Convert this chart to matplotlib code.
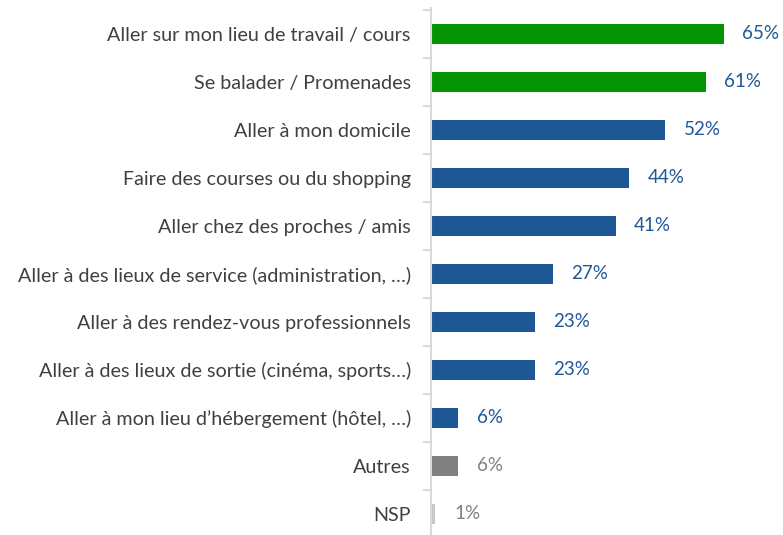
import matplotlib
matplotlib.use("Agg")
import matplotlib.pyplot as plt

# data
categories = [
    "Aller sur mon lieu de travail / cours",
    "Se balader / Promenades",
    "Aller à mon domicile",
    "Faire des courses ou du shopping",
    "Aller chez des proches / amis",
    "Aller à des lieux de service (administration, …)",
    "Aller à des rendez-vous professionnels",
    "Aller à des lieux de sortie (cinéma, sports…)",
    "Aller à mon lieu d’hébergement (hôtel, …)",
    "Autres",
    "NSP",
]
values = [65, 61, 52, 44, 41, 27, 23, 23, 6, 6, 1]

green = "#039303"
blue = "#1E5796"
gray = "#808080"
light = "#C8C8C8"
bar_colors = [green, green] + [blue] * 7 + [gray, light]
label_colors = [blue] * 9 + [gray, gray]

plt.rcParams['font.family'] = ['Lato', 'DejaVu Sans']

fig = plt.figure(figsize=(7.83, 5.35), dpi=100)
ax = fig.add_axes([431 / 783, 0, 352 / 783, 527 / 535])

y = list(range(len(categories)))
ax.barh(y, values, height=0.42, color=bar_colors)

for i, v in enumerate(values):
    ax.annotate(f"{v}%", (v, i), xytext=(13.5, 0), textcoords="offset points",
                va="center", ha="left", fontsize=13.5, color=label_colors[i])

ax.set_xlim(0, 352 / 4.5)
ax.set_ylim(10.44, -0.54)
ax.set_yticks(y)
ax.set_yticklabels(categories, fontsize=14.2, color="#404040")
ax.tick_params(axis="y", which="major", length=0, pad=14.5)
ax.set_yticks([i + 0.5 for i in range(len(categories) - 1)] + [-0.5], minor=True)
ax.tick_params(axis="y", which="minor", length=6, width=1.5, color="#D9D9D9")
ax.set_xticks([])

for s in ["top", "right", "bottom"]:
    ax.spines[s].set_visible(False)
ax.spines["left"].set_color("#D9D9D9")
ax.spines["left"].set_linewidth(1.5)

fig.savefig("out.png", dpi=100)
